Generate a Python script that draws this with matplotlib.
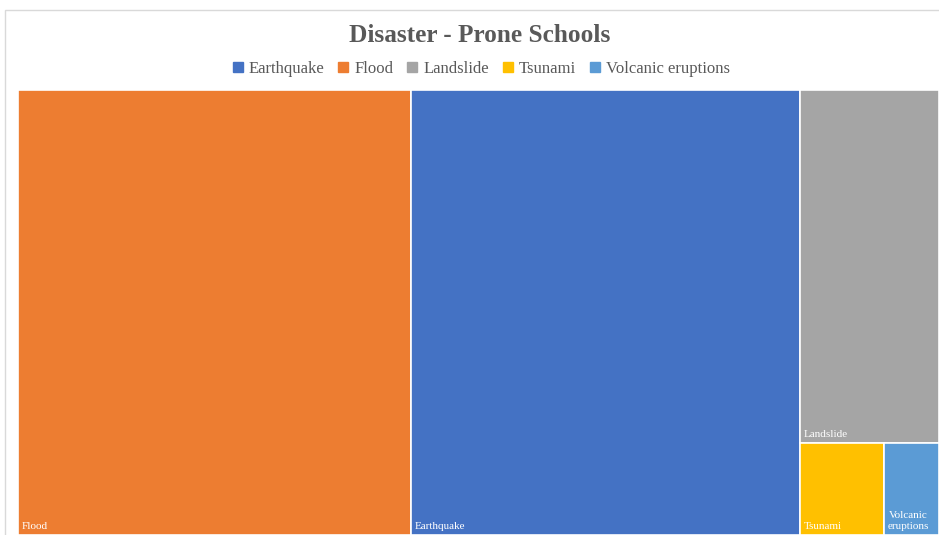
import matplotlib
matplotlib.use("Agg")
import matplotlib.pyplot as plt
from matplotlib.patches import Rectangle
from matplotlib.lines import Line2D

# Data (legend order)
categories = ["Earthquake", "Flood", "Landslide", "Tsunami", "Volcanic eruptions"]
values = [1731, 1748, 491, 77, 51]
colors = ["#4472C4", "#ED7D31", "#A5A5A5", "#FFC000", "#5B9BD5"]
box_labels = ["Earthquake", "Flood", "Landslide", "Tsunami", "Volcanic\neruptions"]

W, H = 939, 535
fig = plt.figure(figsize=(W / 100, H / 100), dpi=100)
plt.rcParams['font.family'] = ['Liberation Serif', 'DejaVu Serif']

# Outer chart frame (light gray)
fig.patches.append(Rectangle((5 / W, -0.01), 1.0, 1 - 10 / H + 0.01, transform=fig.transFigure,
                             fill=False, edgecolor="#D9D9D9", linewidth=1.0, zorder=0))

# Squarified treemap layout
def worst(row, w):
    s = sum(row)
    return max(max(w * w * r / (s * s), s * s / (w * w * r)) for r in row)

def layout_row(row, x, y, dx, dy):
    s = sum(row)
    rects = []
    if dx >= dy:  # column along left side, height dy
        width = s / dy
        cy = y
        for r in row:
            h = r / width
            rects.append((x, cy, width, h))
            cy += h
        return rects, (x + width, y, dx - width, dy)
    else:  # row along top side, width dx
        height = s / dx
        cx = x
        for r in row:
            w = r / height
            rects.append((cx, y, w, height))
            cx += w
        return rects, (x, y + height, dx, dy - height)

def squarify(areas, x, y, dx, dy):
    rects = []
    areas = list(areas)
    while areas:
        side = min(dx, dy)
        row = [areas.pop(0)]
        while areas and worst(row + [areas[0]], side) <= worst(row, side):
            row.append(areas.pop(0))
        r, (x, y, dx, dy) = layout_row(row, x, y, dx, dy)
        rects.extend(r)
    return rects

AW, AH = 100.0, 100.0 * 445 / 921
order = sorted(range(len(values)), key=lambda i: -values[i])
total = sum(values)
areas = [values[i] * AW * AH / total for i in order]
rects = squarify(areas, 0, 0, AW, AH)

ax = fig.add_axes([18 / W, 0.0, 1 - 18 / W, 1 - 90 / H])
ax.set_xlim(0, AW)
ax.set_ylim(AH, 0)
ax.axis("off")

for idx, (x, y, w, h) in zip(order, rects):
    ax.add_patch(Rectangle((x, y), w, h, facecolor=colors[idx], edgecolor="white", linewidth=1.2))
    ax.annotate(box_labels[idx], xy=(x, y + h), xytext=(3, 3), textcoords="offset points",
                ha="left", va="bottom", color="white", fontsize=8, multialignment="center")

fig.text(480 / W, 1 - 35 / H, "Disaster - Prone Schools", ha="center", va="center",
         fontsize=18.2, fontweight="bold", color="#595959")

handles = [Line2D([], [], marker="s", linestyle="none", markersize=6.5, color=c) for c in colors]
fig.legend(handles, categories, loc="center", bbox_to_anchor=(480 / W, 1 - 69 / H), ncol=5,
           frameon=False, fontsize=12, handletextpad=0.2, columnspacing=0.7,
           labelcolor="#595959", handlelength=0.9)

fig.savefig("out.png", dpi=100)
